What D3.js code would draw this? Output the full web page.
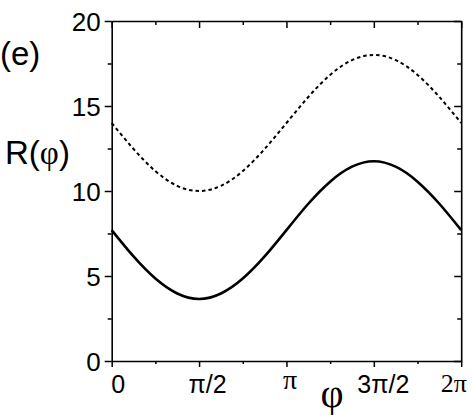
<!DOCTYPE html>
<html lang="en">
<head>
<meta charset="UTF-8">
<title>R(phi)</title>
<script src="https://cdn.jsdelivr.net/npm/d3@7/dist/d3.min.js"></script>
<style>
  body { margin: 0; background: #fff; }
  svg { display: block; }
  text { font-family: "Liberation Sans", Arial, sans-serif; fill: #000; }
  .serif { font-family: "Liberation Serif", "Times New Roman", serif; }
</style>
</head>
<body>
<script>
    // phi sampled every pi/8 from 0 to 2pi
    let phi = d3.range(17).map(function (k) { return k * Math.PI / 8; });
    let solid_R = [7.7, 6.15, 4.85, 3.97, 3.65, 3.97, 4.85, 6.15, 7.7,
                   9.25, 10.55, 11.43, 11.75, 11.43, 10.55, 9.25, 7.7];
    let dashed_R = [14.0, 12.47, 11.17, 10.3, 10.0, 10.3, 11.17, 12.47, 14.0,
                    15.53, 16.83, 17.7, 18.0, 17.7, 16.83, 15.53, 14.0];
    let x_ticks = [0, Math.PI / 2, Math.PI, 3 * Math.PI / 2, 2 * Math.PI];
    let x_labels = ["0", "π/2", "π", "3π/2", "2π"];
    let y_ticks = [0, 5, 10, 15, 20];

    let width = 473, height = 415;
    let plot_left = 111.7, plot_right = 461.2, plot_top = 21, plot_bottom = 361;

    let svg = d3.select('body').append('svg')
        .attr('width', width)
        .attr('height', height);

    let x = d3.scaleLinear().domain([0, 2 * Math.PI]).range([plot_left, plot_right]);
    let y = d3.scaleLinear().domain([0, 20]).range([plot_bottom, plot_top]);

    let minor_x = [1, 3, 5, 7].map(function (k) { return k * Math.PI / 4; });
    let minor_y = [2.5, 7.5, 12.5, 17.5];

    function styleAxis(g) {
        g.selectAll('path, line').attr('stroke', '#000').attr('stroke-width', 1.5);
        g.select('.domain').attr('stroke-width', 1.6);
    }

    // bottom axis (outward ticks)
    let gx = svg.append('g').attr('transform', 'translate(0,' + plot_bottom + ')')
        .call(d3.axisBottom(x).tickValues(x_ticks).tickSize(6).tickSizeOuter(0)
            .tickFormat(function (d, i) { return x_labels[i]; }))
        .call(styleAxis);
    let x_dx = [6, 8, 3, 9, -8];
    let x_fs = [25, 25, 28, 25, 26];
    let x_dy = [32, 32, 28, 32, 31];
    gx.selectAll('.tick text')
        .attr('y', 0)
        .attr('dx', function (d, i) { return x_dx[i]; })
        .attr('class', function (d, i) { return (i === 2 || i === 4) ? 'serif' : null; })
        .attr('font-size', function (d, i) { return x_fs[i]; })
        .attr('dy', function (d, i) { return x_dy[i]; });
    svg.append('g').attr('transform', 'translate(0,' + plot_bottom + ')')
        .call(d3.axisBottom(x).tickValues(minor_x).tickSize(3).tickFormat(''))
        .call(styleAxis).select('.domain').remove();

    // top axis (inward ticks)
    svg.append('g').attr('transform', 'translate(0,' + plot_top + ')')
        .call(d3.axisBottom(x).tickValues(x_ticks).tickSize(7).tickSizeOuter(0).tickFormat(''))
        .call(styleAxis);
    svg.append('g').attr('transform', 'translate(0,' + plot_top + ')')
        .call(d3.axisBottom(x).tickValues(minor_x).tickSize(4).tickFormat(''))
        .call(styleAxis).select('.domain').remove();

    // left axis (outward ticks)
    let gy = svg.append('g').attr('transform', 'translate(' + plot_left + ',0)')
        .call(d3.axisLeft(y).tickValues(y_ticks).tickSize(7).tickSizeOuter(0).tickPadding(4))
        .call(styleAxis);
    gy.selectAll('.tick text').attr('font-size', 26).attr('dy', '0.36em');
    svg.append('g').attr('transform', 'translate(' + plot_left + ',0)')
        .call(d3.axisLeft(y).tickValues(minor_y).tickSize(4).tickFormat(''))
        .call(styleAxis).select('.domain').remove();

    // right axis (inward ticks)
    svg.append('g').attr('transform', 'translate(' + plot_right + ',0)')
        .call(d3.axisLeft(y).tickValues(y_ticks).tickSize(7).tickSizeOuter(0).tickFormat(''))
        .call(styleAxis);
    svg.append('g').attr('transform', 'translate(' + plot_right + ',0)')
        .call(d3.axisLeft(y).tickValues(minor_y).tickSize(4).tickFormat(''))
        .call(styleAxis).select('.domain').remove();

    // curves
    let line = d3.line()
        .x(function (d) { return x(d[0]); })
        .y(function (d) { return y(d[1]); })
        .curve(d3.curveNatural);

    svg.append('path')
        .datum(d3.zip(phi, dashed_R))
        .attr('d', line)
        .attr('fill', 'none')
        .attr('stroke', '#000')
        .attr('stroke-width', 2)
        .attr('stroke-dasharray', '3.5,3');

    svg.append('path')
        .datum(d3.zip(phi, solid_R))
        .attr('d', line)
        .attr('fill', 'none')
        .attr('stroke', '#000')
        .attr('stroke-width', 2.6);

    // labels
    svg.append('text').attr('x', 0).attr('y', 65).attr('font-size', 33).text('(e)');
    let rl = svg.append('text').attr('x', 5).attr('y', 164).attr('font-size', 33);
    rl.append('tspan').text('R(');
    rl.append('tspan').attr('class', 'serif').text('φ');
    rl.append('tspan').text(')');
    svg.append('text').attr('class', 'serif')
        .attr('x', 332).attr('y', 407).attr('text-anchor', 'middle')
        .attr('font-size', 40).text('φ');
</script>
</body>
</html>
